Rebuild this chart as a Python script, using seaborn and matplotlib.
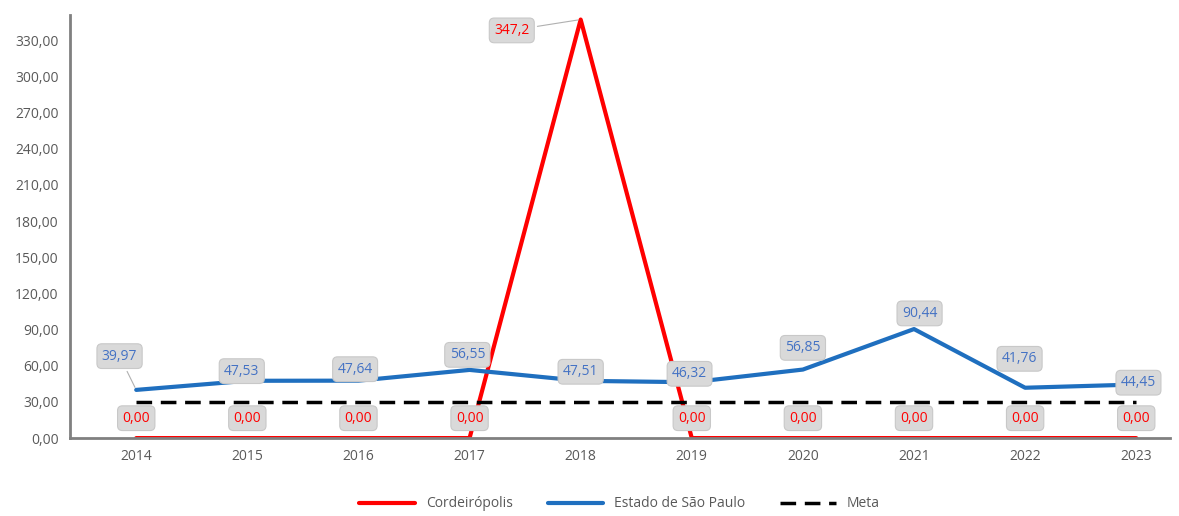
import matplotlib.pyplot as plt
import pandas as pd
import seaborn as sns

anos = [2014, 2015, 2016, 2017, 2018, 2019, 2020, 2021, 2022, 2023]
cordeiropolis = [0.0, 0.0, 0.0, 0.0, 347.2, 0.0, 0.0, 0.0, 0.0, 0.0]
estado_sp = [39.97, 47.53, 47.64, 56.55, 47.51, 46.32, 56.85, 90.44, 41.76, 44.45]
meta = [30, 30, 30, 30, 30, 30, 30, 30, 30, 30]

rotulos_cord = ["0,00", "0,00", "0,00", "0,00", "347,2", "0,00", "0,00", "0,00", "0,00", "0,00"]
rotulos_sp = ["39,97", "47,53", "47,64", "56,55", "47,51", "46,32", "56,85", "90,44", "41,76", "44,45"]

sns.set_style("white")
plt.rcParams["font.family"] = ["Open Sans", "DejaVu Sans"]

df = pd.DataFrame({"x": range(len(anos)), "cord": cordeiropolis, "sp": estado_sp, "meta": meta})

fig = plt.figure(figsize=(11.79, 5.16), dpi=100)
ax = fig.add_axes([0.059, 0.151, 0.933, 0.82])

sns.lineplot(data=df, x="x", y="cord", ax=ax, color="#ff0000", linewidth=3, label="Cordeirópolis")
sns.lineplot(data=df, x="x", y="sp", ax=ax, color="#1f6fbf", linewidth=3, label="Estado de São Paulo")
sns.lineplot(data=df, x="x", y="meta", ax=ax, color="black", linewidth=2.5, linestyle=(0, (4.5, 2.5)), label="Meta")

caixa = dict(boxstyle="round,pad=0.35", fc="#d9d9d9", ec="#c8c8c8", lw=0.8)

# deslocamentos dos rótulos (em unidades de dados)
desl_sp = [(-0.15, 28), (-0.05, 8), (-0.03, 9.5), (-0.02, 12.5), (0, 7.5), (-0.02, 7), (0, 18), (0.05, 13), (-0.05, 24), (0.02, 1.5)]
for i, (v, txt) in enumerate(zip(estado_sp, rotulos_sp)):
    dx, dy = desl_sp[i]
    seta = dict(arrowstyle="-", color="#b0b0b0", lw=0.8) if i == 0 else None
    ax.annotate(txt, xy=(i, v), xytext=(i + dx, v + dy), ha="center", va="center",
                color="#4472c4", fontsize=10, bbox=caixa, arrowprops=seta)

for i, (v, txt) in enumerate(zip(cordeiropolis, rotulos_cord)):
    if v > 100:
        ax.annotate(txt, xy=(i, v), xytext=(i - 0.62, v - 9), ha="center", va="center",
                    color="#ff0000", fontsize=10, bbox=caixa,
                    arrowprops=dict(arrowstyle="-", color="#b0b0b0", lw=0.8))
    else:
        ax.annotate(txt, xy=(i, v), xytext=(i, v + 16.5), ha="center", va="center",
                    color="#ff0000", fontsize=10, bbox=caixa)

ax.set_xlim(-0.6, 9.3)
ax.set_ylim(0, 351)
ax.set_xticks(range(len(anos)))
ax.set_xticklabels([str(a) for a in anos])
ax.set_yticks(range(0, 331, 30))
ax.set_yticklabels([f"{t:.2f}".replace(".", ",") for t in range(0, 331, 30)])
ax.tick_params(axis="both", colors="#595959", labelsize=10, length=0, pad=8)
ax.set_xlabel("")
ax.set_ylabel("")

for lado in ["top", "right"]:
    ax.spines[lado].set_visible(False)
ax.spines["left"].set_color("#808080")
ax.spines["left"].set_linewidth(2)
ax.spines["bottom"].set_color("#808080")
ax.spines["bottom"].set_linewidth(2)

leg = ax.legend(loc="upper center", bbox_to_anchor=(0.5, -0.115), ncol=3, frameon=False,
                fontsize=10, handlelength=4, columnspacing=2.5, borderpad=0.2)
for t in leg.get_texts():
    t.set_color("#595959")

fig.savefig("out.png", dpi=100)
